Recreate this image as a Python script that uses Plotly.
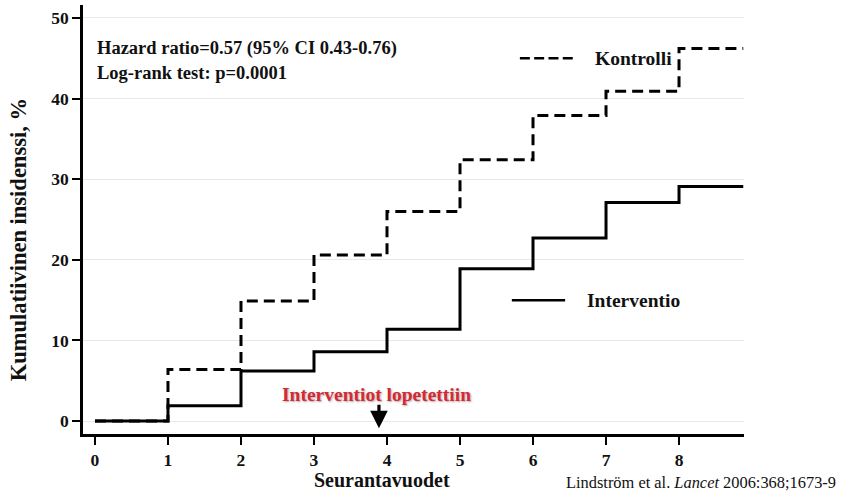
import plotly.graph_objects as go

years = [0, 1, 2, 3, 4, 5, 6, 7, 8, 8.88]
kontrolli = [0, 6.4, 14.9, 20.6, 26.0, 32.4, 37.9, 40.9, 46.2, 46.2]
interventio = [0, 1.9, 6.2, 8.6, 11.4, 18.9, 22.7, 27.1, 29.1, 29.1]
x_ticks = [0, 1, 2, 3, 4, 5, 6, 7, 8]
y_ticks = [0, 10, 20, 30, 40, 50]

SERIF = "Liberation Serif, Times New Roman, serif"

fig = go.Figure()
fig.add_trace(go.Scatter(x=years, y=kontrolli, mode="lines", line_shape="hv",
                         line=dict(color="black", width=3, dash="11px,6px"),
                         name="Kontrolli", showlegend=False))
fig.add_trace(go.Scatter(x=years, y=interventio, mode="lines", line_shape="hv",
                         line=dict(color="black", width=3),
                         name="Interventio", showlegend=False))

# legend samples
fig.add_shape(type="line", x0=5.82, x1=6.55, y0=45.0, y1=45.0, xref="x", yref="y",
              line=dict(color="black", width=2.5, dash="10px,4.3px"))
fig.add_shape(type="line", x0=5.71, x1=6.44, y0=15.0, y1=15.0, xref="x", yref="y",
              line=dict(color="black", width=2.5))

legfont = dict(family=SERIF, size=19.5, color="#111")
fig.add_annotation(x=6.82, y=45.0, xref="x", yref="y", text="<b>Kontrolli</b>",
                   showarrow=False, xanchor="left", yanchor="middle", font=legfont)
fig.add_annotation(x=6.71, y=15.0, xref="x", yref="y", text="<b>Interventio</b>",
                   showarrow=False, xanchor="left", yanchor="middle", font=legfont)

statfont = dict(family=SERIF, size=18.5, color="#111")
fig.add_annotation(x=0, y=46.2, xref="x", yref="y",
                   text="<b>Hazard ratio=0.57 (95% CI 0.43-0.76)</b>",
                   showarrow=False, xanchor="left", yanchor="middle", font=statfont)
fig.add_annotation(x=0, y=43.2, xref="x", yref="y",
                   text="<b>Log-rank test: p=0.0001</b>",
                   showarrow=False, xanchor="left", yanchor="middle", font=statfont)

fig.add_annotation(x=3.86, y=3.35, xref="x", yref="y",
                   text="<b>Interventiot lopetettiin</b>", showarrow=False,
                   xanchor="center", yanchor="middle",
                   font=dict(family=SERIF, size=19.5, color="#d42a35",
                             shadow="1px 1px 2px #aaa"))
fig.add_annotation(x=3.89, y=-0.9, ax=3.89, ay=2.2, xref="x", yref="y",
                   axref="x", ayref="y", text="", showarrow=True,
                   arrowhead=2, arrowsize=1.1, arrowwidth=3.2, arrowcolor="black")

fig.add_annotation(x=0.452, y=-0.107, xref="paper", yref="paper",
                   text="<b>Seurantavuodet</b>", showarrow=False,
                   xanchor="center", yanchor="middle",
                   font=dict(family=SERIF, size=20, color="#111"))
fig.add_annotation(x=-0.098, y=0.452, xref="paper", yref="paper",
                   text="<b>Kumulatiivinen insidenssi, %</b>", showarrow=False,
                   textangle=-90, xanchor="center", yanchor="middle",
                   font=dict(family=SERIF, size=22.5, color="#111"))
fig.add_annotation(x=1.142, y=-0.114, xref="paper", yref="paper",
                   text="Lindström et al. <i>Lancet</i> 2006:368;1673-9",
                   showarrow=False, xanchor="right", yanchor="middle",
                   font=dict(family=SERIF, size=16.4, color="#111"))

tickfont = dict(family=SERIF, size=17.5, color="#111")
fig.update_layout(
    width=842, height=495,
    margin=dict(l=83, r=98, t=5, b=61),
    plot_bgcolor="white", paper_bgcolor="white",
    xaxis=dict(range=[-0.164, 8.89], tickvals=x_ticks, ticktext=[f"<b>{v}</b>" for v in x_ticks],
               showgrid=False, zeroline=False, showline=True, linecolor="black",
               linewidth=2.5, ticks="outside", ticklen=8, tickwidth=1.5,
               tickcolor="black", tickfont=tickfont),
    yaxis=dict(range=[-1.6, 51.6], tickvals=y_ticks, ticktext=[f"<b>{v}</b>" for v in y_ticks],
               showgrid=True, gridcolor="#e8e8e8", gridwidth=1, zeroline=False,
               showline=True, linecolor="black", linewidth=2.5, ticks="outside",
               ticklen=8, tickwidth=1.5, tickcolor="black", tickfont=tickfont),
)

fig.write_html("out.html", config={"displayModeBar": False},
               post_script="document.body.style.margin='0';")
